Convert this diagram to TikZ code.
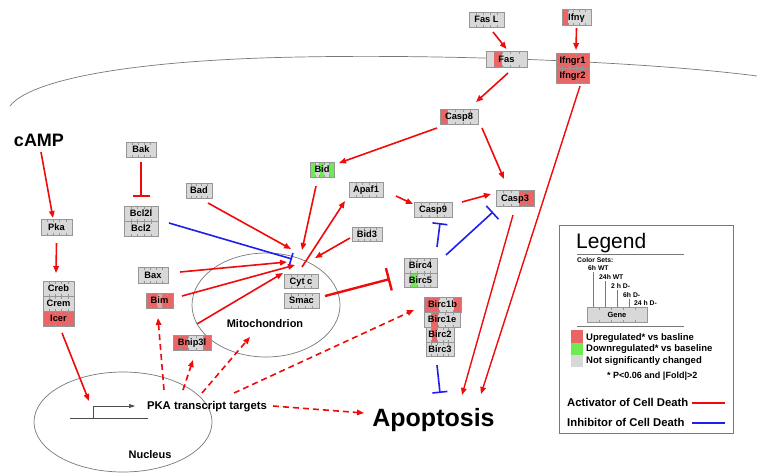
\documentclass[tikz,border=0pt]{standalone}
\usepackage{fontspec}
\setmainfont{Liberation Sans}
\usetikzlibrary{calc,arrows.meta,shapes.geometric}
\definecolor{gcol}{RGB}{216,216,216}
\definecolor{gbor}{RGB}{150,150,150}
\definecolor{up}{RGB}{234,102,102}
\definecolor{uplt}{RGB}{230,160,160}
\definecolor{down}{RGB}{110,235,80}
\definecolor{actred}{RGB}{240,10,10}
\definecolor{inhblue}{RGB}{30,30,240}
\definecolor{memb}{RGB}{120,120,120}
\tikzset{
 gbx/.style={draw=none, fill=gcol, inner sep=0pt, outer sep=0pt},
 gbd/.style={draw=gbor, line width=0.6pt},
 tk/.style={draw=gbor, line width=0.5pt},
 gtx/.style={font=\fontsize{9.3}{10}\selectfont\bfseries, text height=6.6pt, text depth=0pt, inner sep=0pt},
 act/.style={draw=actred, line width=1.6pt, -{Triangle[length=7pt,width=5.5pt]}},
 actd/.style={act, dash pattern=on 6pt off 4pt},
 inhb/.style={draw=inhblue, line width=1.6pt, -{Bar[width=15pt]}},
 inhr/.style={draw=actred, line width=1.6pt, -{Bar[width=17pt]}},
 compart/.style={draw=memb, line width=0.7pt, ellipse, inner sep=0pt},
 bigtxt/.style={font=\bfseries, inner sep=0pt, anchor=base},
 legtxt/.style={font=\fontsize{9.5}{11}\selectfont\bfseries, inner sep=0pt, anchor=base west},
 smtxt/.style={font=\fontsize{6.8}{8}\selectfont\bfseries, inner sep=0pt, anchor=base west},
}
\newcommand{\gbox}[7]{%
  \node[gbx,minimum width=#4pt,minimum height=#5pt] (#1) at (#2,#3) {};
  \foreach \ii/\cl in {#7}{\fill[\cl] ($(#1.south west)!{(\ii-1)/5}!(#1.south east)$) rectangle ($(#1.north west)!{\ii/5}!(#1.north east)$);}
  \foreach \kk in {1,2,3,4}{\draw[tk] ($(#1.south west)!{\kk/5}!(#1.south east)$) -- ++(0,-2.5) ($(#1.north west)!{\kk/5}!(#1.north east)$) -- ++(0,2.5);}
  \draw[gbd] (#1.south west) rectangle (#1.north east);
  \node[gtx] at (#1) {#6};
}
\begin{document}
\begin{tikzpicture}[x=1pt,y=-1pt]
\useasboundingbox (0,0) rectangle (757,472);
\fill[white] (0,0) rectangle (757,472);
% cell membrane
\draw[memb, line width=0.7pt] (10,106) .. controls (30,80) and (130,60) .. (300,57) .. controls (450,54) and (650,62) .. (757,76);
% compartments
\node[compart, minimum width=148pt, minimum height=104pt] (mito) at (266,305) {};
\node[compart, minimum width=178pt, minimum height=100pt] (nuc) at (123,422) {};
\node[bigtxt, font=\fontsize{11}{12}\selectfont\bfseries] (mitolab) at (265,327) {Mitochondrion};
\node[bigtxt, font=\fontsize{11}{12}\selectfont\bfseries] (nuclab) at (150,458) {Nucleus};
% texts
\node[bigtxt, font=\fontsize{18}{20}\selectfont\bfseries] (camp) at (39,146) {cAMP};
\node[bigtxt, font=\fontsize{25}{28}\selectfont\bfseries] (apop) at (433.5,426) {Apoptosis};
\node[bigtxt, font=\fontsize{11.3}{12}\selectfont\bfseries] (pkat) at (207,409.5) {PKA transcript targets};
% gene symbol
\coordinate (tss) at (93,418);
\coordinate (gl) at (70,418);
\coordinate (gr) at (148,418);
\coordinate (ga) at (135,406);
\draw[black!70, line width=0.6pt] (gl) -- (gr);
\draw[black!70, line width=0.6pt, -{Triangle[length=6pt,width=4pt]}] (tss) |- (ga);
% gene boxes
\gbox{FasL}{486.5}{19.5}{35}{15}{Fas L}{1/gcol}
\gbox{Ifny}{576.5}{17}{29}{16}{Ifnγ}{1/up}
\gbox{Fas}{506.5}{59}{41}{16}{Fas}{2/up}
\gbox{Ifngr1}{572.5}{60.5}{33}{15}{Ifngr1}{1/up,2/up,3/up,4/up,5/up}
\gbox{Ifngr2}{572.5}{75.5}{33}{15}{Ifngr2}{1/up,2/up,3/up,4/up,5/up}
\gbox{Casp8}{459}{116.5}{38}{15}{Casp8}{1/up}
\gbox{Bid}{322}{169.5}{24}{15}{Bid}{1/down,3/down,5/down}
\gbox{Apaf1}{366}{189.5}{34}{15}{Apaf1}{1/gcol}
\gbox{Bad}{199}{190.5}{26}{15}{Bad}{1/gcol}
\gbox{Bid3}{367}{234}{30}{14}{Bid3}{1/gcol}
\gbox{Bak}{141}{149.5}{30}{15}{Bak}{1/gcol}
\gbox{Bcl2l}{141}{213.5}{34}{15}{Bcl2l}{1/gcol}
\gbox{Bcl2}{141}{228.5}{34}{15}{Bcl2}{1/gcol}
\gbox{Pka}{56.5}{227}{31}{16}{Pka}{1/gcol}
\gbox{Creb}{58.5}{288.5}{31}{15}{Creb}{1/gcol}
\gbox{Crem}{58.5}{303.5}{31}{15}{Crem}{1/gcol}
\gbox{Icer}{58.5}{318.5}{31}{15}{Icer}{1/up,2/up,3/up,4/up,5/up}
\gbox{Bax}{153}{275}{30}{16}{Bax}{1/gcol}
\gbox{Bim}{159.5}{300.5}{27}{15}{Bim}{1/up,2/up,3/uplt,4/up,5/up}
\gbox{Bnip3l}{192}{342.5}{38}{15}{Bnip3l}{1/up,2/up,5/up}
\gbox{Cytc}{301}{281}{34}{14}{Cyt c}{1/gcol}
\gbox{Smac}{301.5}{300.5}{35}{15}{Smac}{1/gcol}
\gbox{Casp9}{433}{209.5}{38}{15}{Casp9}{1/gcol}
\gbox{Casp3}{515}{198}{38}{16}{Casp3}{4/up,5/up}
\gbox{Birc4}{420.5}{265.5}{33}{15}{Birc4}{1/gcol}
\gbox{Birc5}{420.5}{280}{33}{14}{Birc5}{2/down}
\gbox{Birc1b}{442.5}{304.5}{37}{15}{Birc1b}{1/up,2/up,5/up}
\gbox{Birc1e}{442}{319.5}{36}{15}{Birc1e}{2/up}
\gbox{Birc2}{440}{334.5}{28}{15}{Birc2}{2/up}
\gbox{Birc3}{440}{349}{28}{14}{Birc3}{1/gcol}
% activators
\draw[act] ($(FasL.south)+(6.5,5)$) -- ($(Fas.north)+(0,-2)$);
\draw[act] ($(Ifny.south)+(0,3)$) -- ($(Ifngr1.north)+(3.5,-3)$);
\draw[act] ($(Fas.south)+(1.5,6)$) -- ($(Casp8.north)+(17,-7)$);
\draw[act, line width=1.4pt] ($(Ifngr2.south)+(7.5,3)$) -- ($(apop.base)+(47.5,-32)$);
\draw[act, line width=1.4pt] ($(Casp3.south)+(-2,9)$) -- ($(apop.base)+(28.5,-31)$);
\draw[act] ($(Casp8.south west)+(-3,4)$) -- ($(Bid.north east)+(5,1)$);
\draw[act] ($(Casp8.south east)+(4,4)$) -- ($(Casp3.north)+(-11,-11)$);
\draw[act] ($(Bid.south)+(-6,9)$) -- ($(mito.center)+(36,-55)$);
\draw[act] ($(Bad.south)+(9,5)$) -- ($(mito.center)+(25,-56)$);
\draw[act] ($(Bax.east)+(12,-3)$) -- ($(mito.center)+(21,-43)$);
\draw[act] ($(Bim.east)+(9,-4.5)$) -- ($(mito.center)+(29,-40)$);
\draw[act] ($(Bnip3l.north)+(5,-11)$) -- ($(Cytc.west)+(-1,-8)$);
\draw[act] ($(Cytc.north)+(1,-7)$) -- ($(Apaf1.south west)+(-4,4)$);
\draw[act] ($(Bid3.west)+(-2,4)$) -- ($(mito.center)+(49,-47)$);
\draw[act] ($(Apaf1.east)+(13,6.5)$) -- ($(Casp9.west)+(-1,-5.5)$);
\draw[act] ($(Casp9.east)+(10,-7.5)$) -- ($(Casp3.west)+(-5,-4)$);
\draw[act] ($(camp.base)+(2,6)$) -- ($(Pka.north)+(-3.5,-1)$);
\draw[act] ($(Pka.south)+(0,8)$) -- ($(Creb.north)+(-2.5,-8)$);
\draw[act] ($(Icer.south)+(3.5,7)$) -- ($(tss)+(-4,-17)$);
% dashed activators
\draw[actd] ($(pkat.base)+(-43,-19.5)$) -- ($(Bim.south)+(-1.5,10)$);
\draw[actd] ($(pkat.base)+(-24,-19.5)$) -- ($(Bnip3l.south)+(1,10)$);
\draw[actd] ($(pkat.base)+(-5,-16.5)$) -- ($(mito.center)+(-16,32)$);
\draw[actd] ($(pkat.base)+(27,-16.5)$) -- ($(Birc1b.west)+(-10,5.5)$);
\draw[actd] ($(pkat.base)+(66,-3.5)$) -- ($(apop.base)+(-69.5,-13)$);
% inhibitors
\draw[inhr] ($(Bak.south)+(0,5)$) -- ($(Bcl2l.north)+(0,-9)$);
\draw[inhr, line width=2.4pt, -{Bar[width=23pt]}] ($(Smac.east)+(6,-4.5)$) -- ($(Birc4.south west)+(-14,6)$);
\draw[inhb, -{Bar[width=12pt]}] ($(Bcl2.north east)+(11,2)$) -- ($(mito.center)+(26,-46)$);
\draw[inhb] ($(Birc4.north east)+(0,-11)$) -- ($(Casp9.south)+(7,6)$);
\draw[inhb, -{Bar[width=18pt]}] ($(Birc4.north east)+(9,-3)$) -- ($(Casp3.south)+(-22,6)$);
\draw[inhb] ($(Birc3.south)+(-3,9)$) -- ($(apop.base)+(6.5,-33)$);
% legend
\node[draw=memb, line width=0.8pt, minimum width=174pt, minimum height=208pt, inner sep=0pt] (legbox) at (646,329) {};
\node[inner sep=0pt, anchor=base west, font=\fontsize{21}{24}\selectfont] (legtitle) at (576,248) {Legend};
\draw[memb, line width=0.5pt] (577,254) -- (684,254);
\node[smtxt] (cs) at (577,262) {Color Sets:};
\node[smtxt] (s1) at (588,270) {6h WT};
\node[smtxt] (s2) at (599,279) {24h WT};
\node[smtxt] (s3) at (611,288) {2 h D-};
\node[smtxt] (s4) at (623,297) {6h D-};
\node[smtxt] (s5) at (634,305) {24 h D-};
\node[gbx, minimum width=60pt, minimum height=15pt] (lgene) at (617,314.5) {};
\foreach \xx in {599,611,623,635}{\draw[tk] (\xx,322) -- (\xx,319.5) (\xx,307) -- (\xx,309.5);}
\draw[gbd] (lgene.south west) rectangle (lgene.north east);
\node[inner sep=0pt, font=\fontsize{7.5}{8}\selectfont\bfseries, text height=5.4pt, text depth=0pt] at (lgene) {Gene};
\draw[memb, line width=0.6pt] (593,272) -- (593,307);
\draw[memb, line width=0.6pt] (605,281) -- (605,307);
\draw[memb, line width=0.6pt] (617,290) -- (617,307);
\draw[memb, line width=0.6pt] (629,299) -- (629,307);
\draw[memb, line width=0.5pt] (577,326) -- (684,326);
\fill[up] (571,330) rectangle (583,342.5);
\fill[down] (571,342.5) rectangle (583,355);
\fill[gcol] (571,355) rectangle (583,367);
\node[legtxt] (l1) at (586,340.5) {Upregulated* vs basline};
\node[legtxt] (l2) at (586,351.8) {Downregulated* vs baseline};
\node[legtxt] (l3) at (586,363.5) {Not significantly changed};
\node[legtxt, font=\fontsize{9}{10}\selectfont\bfseries] (l4) at (607,378) {* P<0.06 and |Fold|>2};
\node[legtxt, font=\fontsize{11.3}{12}\selectfont\bfseries] (la) at (567,406.5) {Activator of Cell Death};
\node[legtxt, font=\fontsize{11.3}{12}\selectfont\bfseries] (li) at (567,426) {Inhibitor of Cell Death};
\coordinate (la1) at (692,403);
\coordinate (la2) at (725,403);
\coordinate (li1) at (692,423);
\coordinate (li2) at (725,423);
\draw[actred, line width=1.5pt] (la1) -- (la2);
\draw[inhblue, line width=1.5pt] (li1) -- (li2);
\end{tikzpicture}
\end{document}
